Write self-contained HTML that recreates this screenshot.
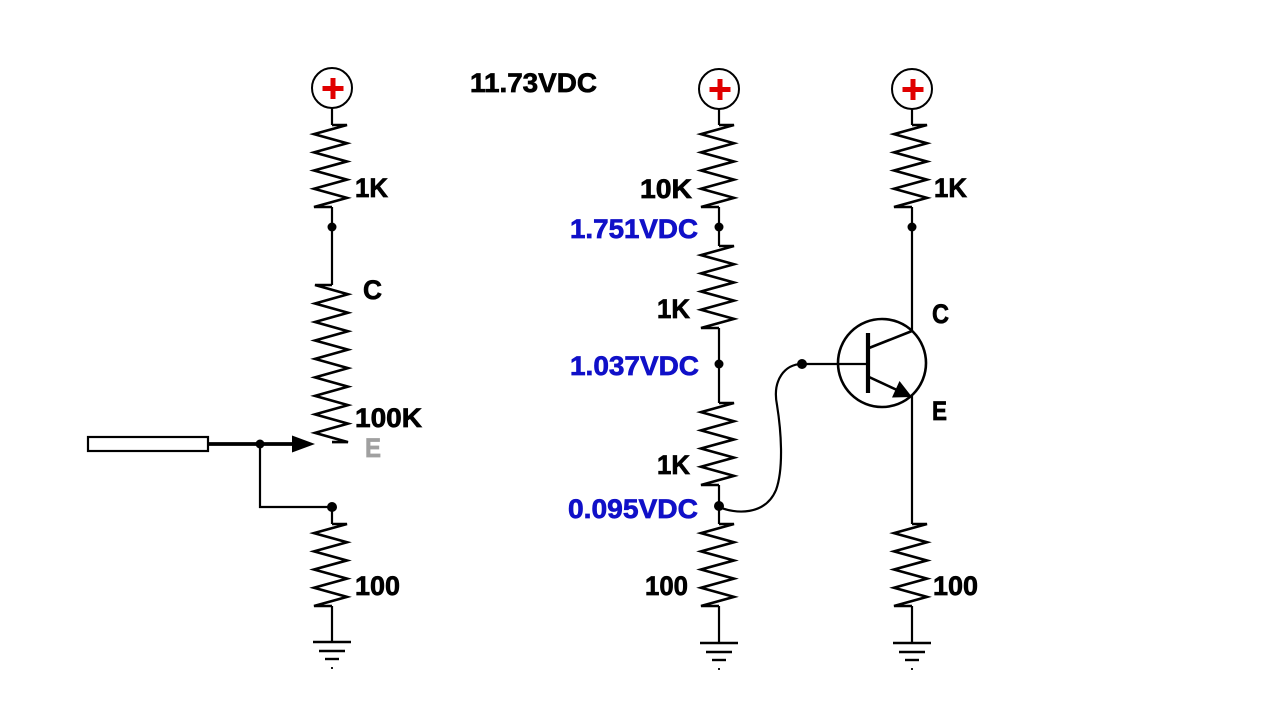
<!DOCTYPE html>
<html><head><meta charset="utf-8"><style>
html,body{margin:0;padding:0;background:#fff;}
svg{display:block;}
text{font-family:"Liberation Sans",Arial,sans-serif;font-weight:bold;font-size:27px;stroke-width:0.7px;}
</style></head><body>
<svg width="1280" height="720" viewBox="0 0 1280 720" xmlns="http://www.w3.org/2000/svg">
<defs>
<path id="res" d="M0,0 h15 l-33,9.11 l33,9.11 l-33,9.11 l33,9.11 l-33,9.11 l33,9.11 l-33,9.11 l33,9.11 l-33,9.11 h18" fill="none" stroke="#000" stroke-width="2.6" stroke-linejoin="miter"/>
<g id="plus">
<circle cx="0" cy="0" r="20" fill="#fff" stroke="#000" stroke-width="2"/>
<rect x="-9.5" y="-2" width="21" height="5" fill="#e00000"/>
<rect x="-1.5" y="-10" width="5" height="21" fill="#e00000"/>
</g>
<g id="gnd" stroke="#000" stroke-width="2.4">
<line x1="-19" y1="0" x2="19" y2="0"/>
<line x1="-13" y1="9" x2="13" y2="9"/>
<line x1="-7" y1="17" x2="7" y2="17"/>
<line x1="0" y1="25" x2="0" y2="27" stroke-width="1.8"/>
</g>
</defs>

<!-- ===== LEFT COLUMN ===== -->
<use href="#plus" x="332" y="88"/>
<g stroke="#000" stroke-width="2.2" fill="none">
<line x1="332" y1="108" x2="332" y2="125"/>
<line x1="332" y1="207" x2="332" y2="285"/>
<polyline points="260,444 260,507 332,507 332,524"/>
<line x1="332" y1="606" x2="332" y2="642"/>
</g>
<use href="#res" x="332" y="125"/>
<circle cx="332" cy="227" r="4.5" fill="#000"/>
<!-- 100K pot -->
<path d="M332,285 h-17 l33,9.24 l-33,9.24 l33,9.24 l-33,9.24 l33,9.24 l-33,9.24 l33,9.24 l-33,9.24 l33,9.24 l-33,9.24 l33,9.24 l-33,9.24 l33,9.24 l-33,9.24 l33,9.24 l-33,9.24 l33,9.24 h-16" fill="none" stroke="#000" stroke-width="2.6"/>
<!-- wiper -->
<rect x="88" y="437" width="120" height="14" fill="#fff" stroke="#000" stroke-width="2.2"/>
<line x1="208" y1="444" x2="296" y2="444" stroke="#000" stroke-width="3.8"/>
<polygon points="292,435.5 315,444 292,452.5" fill="#000"/>
<circle cx="260" cy="444" r="4.5" fill="#000"/>
<circle cx="332" cy="507" r="5" fill="#000"/>
<use href="#res" x="332" y="524"/>
<use href="#gnd" x="332" y="642"/>

<text x="355" y="197" textLength="33" lengthAdjust="spacingAndGlyphs" stroke="#000">1K</text>
<text x="363" y="299" textLength="19" lengthAdjust="spacingAndGlyphs" stroke="#000">C</text>
<text x="355" y="427" textLength="67" lengthAdjust="spacingAndGlyphs" stroke="#000">100K</text>
<text x="365" y="457" textLength="16" lengthAdjust="spacingAndGlyphs" fill="#a0a0a0" stroke="#a0a0a0">E</text>
<text x="355" y="595" textLength="45" lengthAdjust="spacingAndGlyphs" stroke="#000">100</text>

<text x="470" y="92" textLength="127" lengthAdjust="spacingAndGlyphs" stroke="#000">11.73VDC</text>

<!-- ===== MIDDLE COLUMN ===== -->
<use href="#plus" x="719" y="89"/>
<g stroke="#000" stroke-width="2.2" fill="none">
<line x1="719" y1="108" x2="719" y2="125"/>
<line x1="719" y1="207" x2="719" y2="246"/>
<line x1="719" y1="328" x2="719" y2="403"/>
<line x1="719" y1="485" x2="719" y2="524"/>
<line x1="719" y1="606" x2="719" y2="643"/>
</g>
<use href="#res" x="719" y="125"/>
<use href="#res" x="719" y="246"/>
<use href="#res" x="719" y="403"/>
<use href="#res" x="719" y="524"/>
<circle cx="719" cy="227" r="4.5" fill="#000"/>
<circle cx="719" cy="364" r="4.5" fill="#000"/>
<circle cx="719" cy="506" r="5" fill="#000"/>
<use href="#gnd" x="719" y="643"/>

<text x="640" y="198" textLength="52" lengthAdjust="spacingAndGlyphs" stroke="#000">10K</text>
<text x="570" y="238" textLength="128" lengthAdjust="spacingAndGlyphs" fill="#1010c8" stroke="#1010c8">1.751VDC</text>
<text x="657" y="318" textLength="33" lengthAdjust="spacingAndGlyphs" stroke="#000">1K</text>
<text x="570" y="375" textLength="129" lengthAdjust="spacingAndGlyphs" fill="#1010c8" stroke="#1010c8">1.037VDC</text>
<text x="657" y="474" textLength="33" lengthAdjust="spacingAndGlyphs" stroke="#000">1K</text>
<text x="568" y="518" textLength="130" lengthAdjust="spacingAndGlyphs" fill="#1010c8" stroke="#1010c8">0.095VDC</text>
<text x="645" y="595" textLength="43" lengthAdjust="spacingAndGlyphs" stroke="#000">100</text>

<!-- curved wire -->
<path d="M719,507 C735,514 765,516 776,490 C784,468 781,430 777,405 C772,380 785,364 802,364" fill="none" stroke="#000" stroke-width="2.2"/>

<!-- ===== RIGHT COLUMN ===== -->
<use href="#plus" x="912" y="89"/>
<g stroke="#000" stroke-width="2.2" fill="none">
<line x1="912" y1="108" x2="912" y2="125"/>
<line x1="912" y1="207" x2="912" y2="332"/>
<line x1="912" y1="396" x2="912" y2="524"/>
<line x1="912" y1="606" x2="912" y2="643"/>
</g>
<use href="#res" x="912" y="125"/>
<use href="#res" x="912" y="524"/>
<circle cx="912" cy="227" r="4.5" fill="#000"/>
<use href="#gnd" x="912" y="643"/>

<!-- transistor -->
<circle cx="882" cy="363" r="44" fill="none" stroke="#000" stroke-width="2.6"/>
<line x1="802" y1="364" x2="867" y2="364" stroke="#000" stroke-width="2.2"/>
<line x1="868" y1="333" x2="868" y2="393" stroke="#000" stroke-width="4.2"/>
<line x1="869" y1="348" x2="912" y2="331" stroke="#000" stroke-width="2.6"/>
<line x1="869" y1="377" x2="897" y2="390" stroke="#000" stroke-width="2.6"/>
<polygon points="912,397 892,397.5 899.5,381" fill="#000"/>
<circle cx="802" cy="364" r="5" fill="#000"/>

<text x="934" y="197" textLength="33" lengthAdjust="spacingAndGlyphs" stroke="#000">1K</text>
<text x="932" y="323" textLength="17" lengthAdjust="spacingAndGlyphs" stroke="#000">C</text>
<text x="932" y="420" textLength="15" lengthAdjust="spacingAndGlyphs" stroke="#000">E</text>
<text x="933" y="595" textLength="45" lengthAdjust="spacingAndGlyphs" stroke="#000">100</text>
</svg>
</body></html>
